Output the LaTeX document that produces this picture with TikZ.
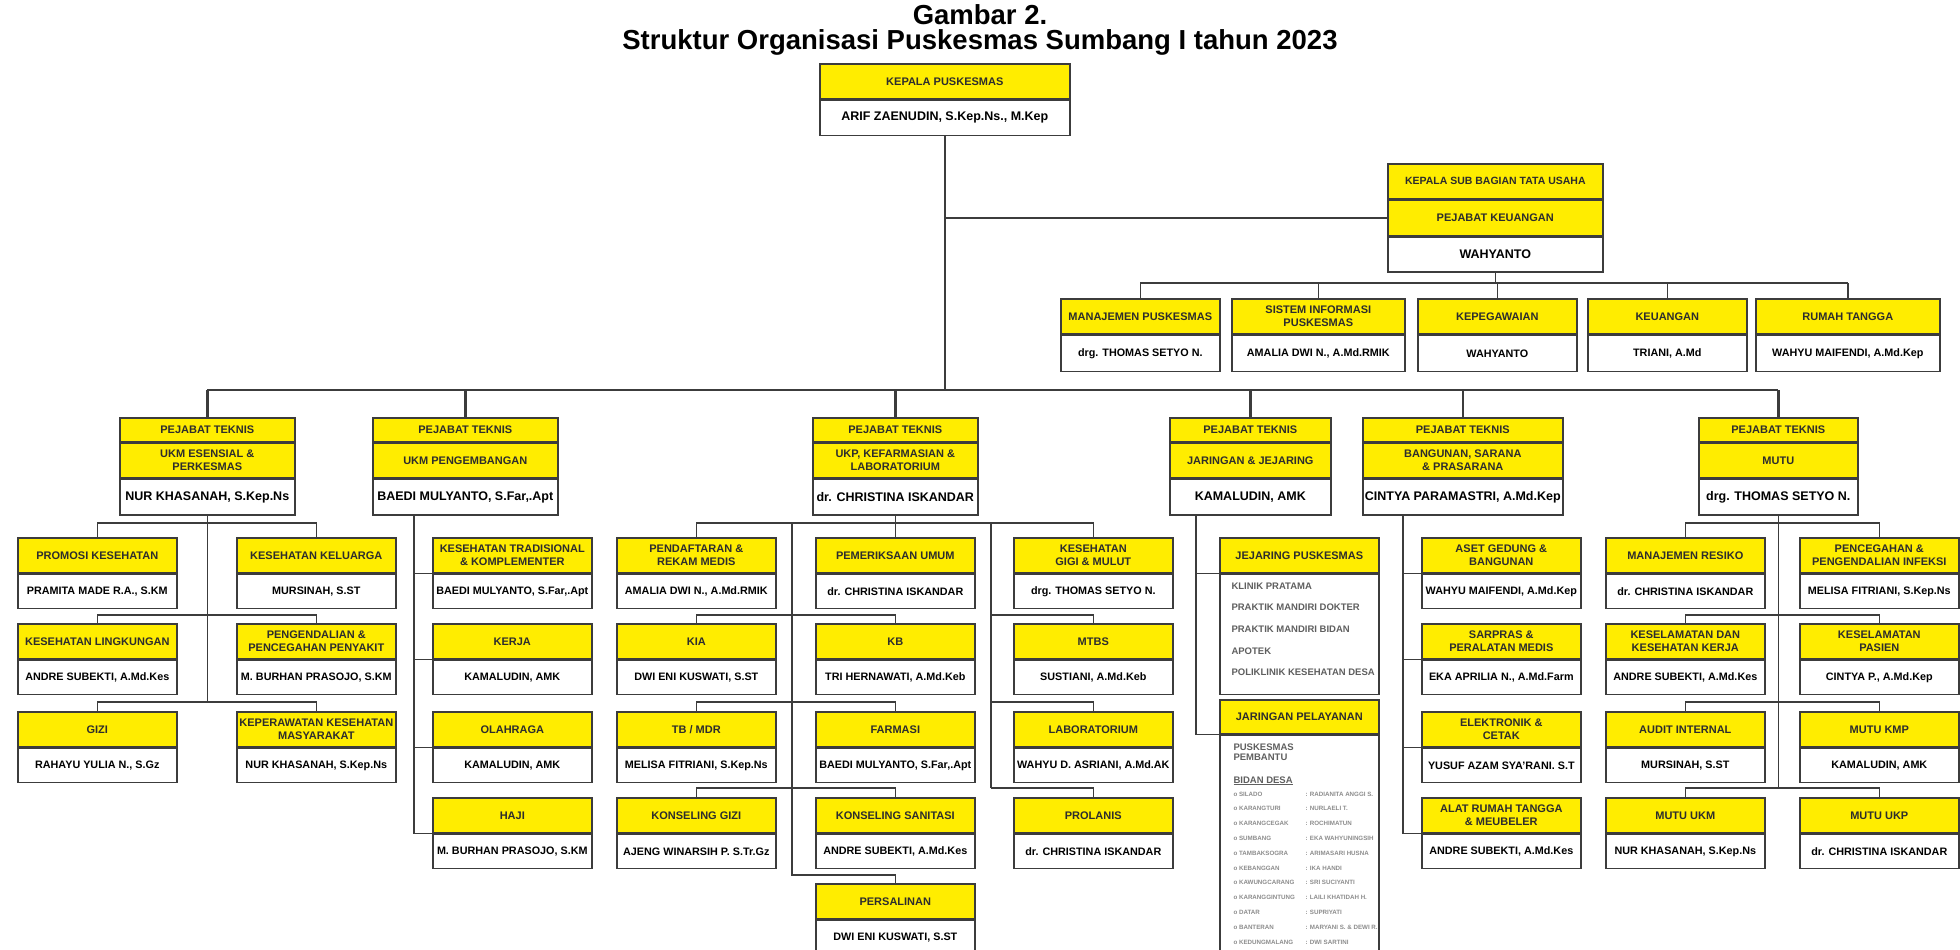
\documentclass[tikz,border=0pt]{standalone}
\usepackage{fontspec}
\setmainfont{Liberation Sans}
\definecolor{kuning}{RGB}{255,237,0}
\definecolor{garis}{RGB}{60,60,60}
\definecolor{teks}{RGB}{45,45,45}
\definecolor{abu}{RGB}{95,95,95}
\definecolor{abumuda}{RGB}{140,140,140}
\begin{document}
\begin{tikzpicture}[x=1pt,y=-1pt,
            kotak/.style={draw=garis,line width=1.6pt,inner sep=1pt,align=center,anchor=north west},
            hd/.style={kotak,fill=kuning,text=teks,font=\bfseries\fontsize{11}{12.5}\selectfont},
            nm/.style={kotak,fill=white,font=\bfseries\fontsize{10.8}{12}\selectfont},
            pj/.style={kotak,fill=white,font=\bfseries\fontsize{12.5}{14}\selectfont},
            sub/.style={minimum width=159pt,minimum height=35pt},
            subb/.style={minimum width=159pt,minimum height=34pt},
            hub/.style={draw=garis,line width=1.6pt},
            induk/.style={draw=garis,line width=2.6pt},
            daftar/.style={anchor=base west,text=abu,font=\bfseries\fontsize{9.5}{10.5}\selectfont},
            kecil/.style={anchor=base west,text=abumuda,font=\bfseries\fontsize{6.2}{7}\selectfont}]
            \path[use as bounding box,fill=white] (0,0) rectangle (1960,950);
            \node (jdl1) at (980,25) [anchor=base,font=\bfseries\fontsize{27.5}{30}\selectfont] {Gambar 2.};
            \node (jdl2) at (980,50) [anchor=base,font=\bfseries\fontsize{27.5}{30}\selectfont] {Struktur Organisasi Puskesmas Sumbang I tahun 2023};
            \node (kepH) at (819,63) [hd,minimum width=250pt,minimum height=35pt] {KEPALA PUSKESMAS};
            \node (kepB) at (kepH.south) [pj,anchor=north,minimum width=250pt,minimum height=35pt] {ARIF ZAENUDIN, S.Kep.Ns., M.Kep};
            \node (kasH) at (1387,163) [hd,minimum width=215pt,minimum height=35pt,font=\bfseries\fontsize{10.5}{12}\selectfont] {KEPALA SUB BAGIAN TATA USAHA};
            \node (kasK) at (kasH.south) [hd,anchor=north,minimum width=215pt,minimum height=35pt] {PEJABAT KEUANGAN};
            \node (kasB) at (kasK.south) [pj,anchor=north,minimum width=215pt,minimum height=35pt] {WAHYANTO};
            \foreach \nama/\xa/\wa/\ja/\isi in {man/1060/159/{MANAJEMEN PUSKESMAS}/{drg. THOMAS SETYO N.},
                sis/1231/173/{SISTEM INFORMASI\\PUSKESMAS}/{AMALIA DWI N., A.Md.RMIK},
                peg/1417/159/{KEPEGAWAIAN}/{WAHYANTO},
                keu/1587/159/{KEUANGAN}/{TRIANI, A.Md},
                rt/1755/184/{RUMAH TANGGA}/{WAHYU MAIFENDI, A.Md.Kep}} {
                \node (\nama H) at (\xa,298) [hd,minimum width=\wa pt,minimum height=35pt] {\ja};
                \node (\nama B) at (\nama H.south) [nm,anchor=north,minimum width=\wa pt,minimum height=36pt] {\isi};
            }
            \foreach \nama/\xa/\wa/\ja/\isi in {es/119/175/{UKM ESENSIAL \&\\PERKESMAS}/{NUR KHASANAH, S.Kep.Ns},
                pg/372/185/{UKM PENGEMBANGAN}/{BAEDI MULYANTO, S.Far,.Apt},
                uk/812/165/{UKP, KEFARMASIAN \&\\LABORATORIUM}/{dr. CHRISTINA ISKANDAR},
                jr/1169/161/{JARINGAN \& JEJARING}/{KAMALUDIN, AMK},
                bg/1362/200/{BANGUNAN, SARANA\\\& PRASARANA}/{CINTYA PARAMASTRI, A.Md.Kep},
                mu/1698/159/{MUTU}/{drg. THOMAS SETYO N.}} {
                \node (\nama A) at (\xa,417) [hd,minimum width=\wa pt,minimum height=24pt] {PEJABAT TEKNIS};
                \node (\nama B) at (\nama A.south) [hd,anchor=north,minimum width=\wa pt,minimum height=34pt] {\ja};
                \node (\nama C) at (\nama B.south) [pj,anchor=north,minimum width=\wa pt,minimum height=36pt] {\isi};
            }
            \foreach \nama/\xa/\ya/\ja/\isi in {prom/17/537/{PROMOSI KESEHATAN}/{PRAMITA MADE R.A., S.KM},
                kel/236/537/{KESEHATAN KELUARGA}/{MURSINAH, S.ST},
                ling/17/623/{KESEHATAN LINGKUNGAN}/{ANDRE SUBEKTI, A.Md.Kes},
                ptp/236/623/{PENGENDALIAN \&\\PENCEGAHAN PENYAKIT}/{M. BURHAN PRASOJO, S.KM},
                gizi/17/711/{GIZI}/{RAHAYU YULIA N., S.Gz},
                kkm/236/711/{KEPERAWATAN KESEHATAN\\MASYARAKAT}/{NUR KHASANAH, S.Kep.Ns},
                trad/432/537/{KESEHATAN TRADISIONAL\\\& KOMPLEMENTER}/{BAEDI MULYANTO, S.Far,.Apt},
                kerja/432/623/{KERJA}/{KAMALUDIN, AMK},
                olah/432/711/{OLAHRAGA}/{KAMALUDIN, AMK},
                haji/432/797/{HAJI}/{M. BURHAN PRASOJO, S.KM},
                daft/616/537/{PENDAFTARAN \&\\REKAM MEDIS}/{AMALIA DWI N., A.Md.RMIK},
                pem/815/537/{PEMERIKSAAN UMUM}/{dr. CHRISTINA ISKANDAR},
                gigi/1013/537/{KESEHATAN\\GIGI \& MULUT}/{drg. THOMAS SETYO N.},
                kia/616/623/{KIA}/{DWI ENI KUSWATI, S.ST},
                kb/815/623/{KB}/{TRI HERNAWATI, A.Md.Keb},
                mtbs/1013/623/{MTBS}/{SUSTIANI, A.Md.Keb},
                tb/616/711/{TB / MDR}/{MELISA FITRIANI, S.Kep.Ns},
                far/815/711/{FARMASI}/{BAEDI MULYANTO, S.Far,.Apt},
                lab/1013/711/{LABORATORIUM}/{WAHYU D. ASRIANI, A.Md.AK},
                kg/616/797/{KONSELING GIZI}/{AJENG WINARSIH P. S.Tr.Gz},
                ks/815/797/{KONSELING SANITASI}/{ANDRE SUBEKTI, A.Md.Kes},
                prol/1013/797/{PROLANIS}/{dr. CHRISTINA ISKANDAR},
                pers/815/883/{PERSALINAN}/{DWI ENI KUSWATI, S.ST},
                aset/1421/537/{ASET GEDUNG \&\\BANGUNAN}/{WAHYU MAIFENDI, A.Md.Kep},
                sar/1421/623/{SARPRAS \&\\PERALATAN MEDIS}/{EKA APRILIA N., A.Md.Farm},
                elk/1421/711/{ELEKTRONIK \&\\CETAK}/{YUSUF AZAM SYA'RANI. S.T},
                alat/1421/797/{ALAT RUMAH TANGGA\\\& MEUBELER}/{ANDRE SUBEKTI, A.Md.Kes},
                mr/1605/537/{MANAJEMEN RESIKO}/{dr. CHRISTINA ISKANDAR},
                ppi/1799/537/{PENCEGAHAN \&\\PENGENDALIAN INFEKSI}/{MELISA FITRIANI, S.Kep.Ns},
                kkk/1605/623/{KESELAMATAN DAN\\KESEHATAN KERJA}/{ANDRE SUBEKTI, A.Md.Kes},
                kps/1799/623/{KESELAMATAN\\PASIEN}/{CINTYA P., A.Md.Kep},
                ai/1605/711/{AUDIT INTERNAL}/{MURSINAH, S.ST},
                kmp/1799/711/{MUTU KMP}/{KAMALUDIN, AMK},
                ukm/1605/797/{MUTU UKM}/{NUR KHASANAH, S.Kep.Ns},
                ukp/1799/797/{MUTU UKP}/{dr. CHRISTINA ISKANDAR}} {
                \node (\nama H) at (\xa,\ya) [hd,sub] {\ja};
                \node (\nama B) at (\nama H.south) [nm,subb,anchor=north] {\isi};
            }
            \node (jjH) at (1219,537) [hd,sub] {JEJARING PUSKESMAS};
            \node (jjB) at (jjH.south) [nm,anchor=north,minimum width=159pt,minimum height=120pt] {};
            \foreach \t [count=\i] in {KLINIK PRATAMA,PRAKTIK MANDIRI DOKTER,PRAKTIK MANDIRI BIDAN,APOTEK,POLIKLINIK KESEHATAN DESA}
                \node (jj\i) at (1228,{567.3+21.7*\i}) [daftar] {\t};
            \node (jpH) at (1219,699) [hd,minimum width=159pt,minimum height=34pt] {JARINGAN PELAYANAN};
            \node (jpB) at (jpH.south) [nm,anchor=north,minimum width=159pt,minimum height=230pt] {};
            \node (pb1) at (1230,750) [daftar] {PUSKESMAS};
            \node (pb2) at (1230,760.5) [daftar] {PEMBANTU};
            \node (bdn) at (1230,783) [daftar] {\underline{BIDAN DESA}};
            \foreach \d/\b [count=\i] in {SILADO/RADIANITA ANGGI S.,KARANGTURI/NURLAELI T.,KARANGCEGAK/ROCHIMATUN,SUMBANG/EKA WAHYUNINGSIH,TAMBAKSOGRA/ARIMASARI HUSNA,KEBANGGAN/IKA HANDI,KAWUNGCARANG/SRI SUCIYANTI,KARANGGINTUNG/LAILI KHATIDAH H.,DATAR/SUPRIYATI,BANTERAN/MARYANI S. \& DEWI R.,KEDUNGMALANG/DWI SARTINI} {
                \node (bd\i) at (1230,{781.2+14.8*\i}) [kecil] {o \d};
                \node (bn\i) at (1302,{781.2+14.8*\i}) [kecil] {: \b};
            }
            \coordinate (bus) at (944,390);
            \coordinate (tu) at (0,283);
            \coordinate (r1) at (0,523);
            \coordinate (r2) at (0,615);
            \coordinate (r3) at (0,702);
            \coordinate (r4) at (0,788);
            \coordinate (r5) at (0,875);
            \coordinate (pgx) at (414,0);
            \coordinate (ukl) at (792,0);
            \coordinate (ukr) at (991,0);
            \coordinate (jrx) at (1196,0);
            \coordinate (bgx) at (1403,0);
            \draw[induk] (kepB.south) -- (kepB.south |- bus);
            \draw[induk] (kepB.south |- kasK.west) -- (kasK.west);
            \draw[induk] (esA.north |- bus) -- (muA.north |- bus);
            \foreach \n in {esA,pgA,ukA,jrA,bgA,muA}
                \draw[induk] (\n.north |- bus) -- (\n.north);
            \draw[hub] (kasB.south) -- (kasB.south |- tu);
            \draw[hub] (manH.north |- tu) -- (rtH.north |- tu);
            \foreach \n in {manH,sisH,pegH,keuH,rtH}
                \draw[hub] (\n.north |- tu) -- (\n.north);
            \draw[hub] (esC.south) -- (esC.south |- r3);
            \draw[hub] (muC.south) -- (muC.south |- r4);
            \foreach \a/\b/\r in {promH/kelH/r1,lingH/ptpH/r2,giziH/kkmH/r3,daftH/gigiH/r1,kiaH/kbH/r2,tbH/farH/r3,kgH/ksH/r4,mrH/ppiH/r1,kkkH/kpsH/r2,aiH/kmpH/r3,ukmH/ukpH/r4}
                \draw[hub] (\a.north) -- (\a.north |- \r) -- (\b.north |- \r) -- (\b.north);
            \draw[hub] (pgx |- pgC.south) -- (pgx |- hajiH.south);
            \foreach \n in {tradH,kerjaH,olahH,hajiH}
                \draw[hub] (pgx |- \n.south) -- (\n.south west);
            \draw[hub] (ukC.south) -- (pemH.north);
            \draw[hub] (ukl |- r1) -- (ukl |- r5) -- (persH.north |- r5) -- (persH.north);
            \draw[hub] (ukr |- r1) -- (ukr |- r4);
            \foreach \n/\r in {mtbsH/r2,labH/r3,prolH/r4}
                \draw[hub] (ukr |- \r) -- (\n.north |- \r) -- (\n.north);
            \draw[hub] (jrx |- jrC.south) -- (jrx |- jpH.south) -- (jpH.south west);
            \draw[hub] (jrx |- jjH.south) -- (jjH.south west);
            \draw[hub] (bgx |- bgC.south) -- (bgx |- alatH.south);
            \foreach \n in {asetH,sarH,elkH,alatH}
                \draw[hub] (bgx |- \n.south) -- (\n.south west);
        \end{tikzpicture}
\end{document}
